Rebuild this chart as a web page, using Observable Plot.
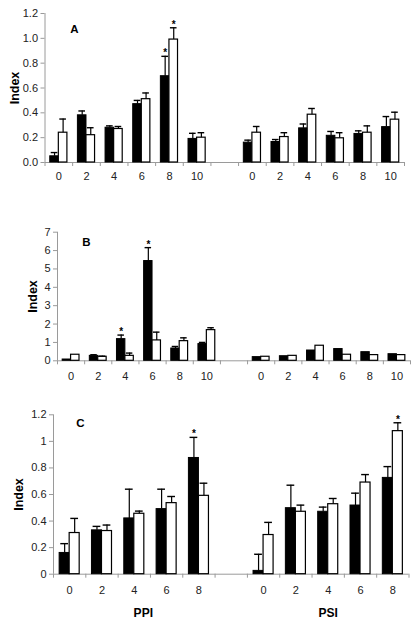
<!DOCTYPE html>
<html><head><meta charset="utf-8">
<script src="https://cdn.jsdelivr.net/npm/d3@7"></script>
<script src="https://cdn.jsdelivr.net/npm/@observablehq/plot@0.6"></script>
<style>
body{margin:0;background:#fff;}
#wrap{position:relative;width:417px;height:625px;background:#fff;}
#wrap svg{position:absolute;left:0;}
</style></head><body><div id="wrap"></div>
<script>
const groups = ["PPI", "PSI"];
const dosesAB = ["0", "2", "4", "6", "8", "10"];
const dosesC = ["0", "2", "4", "6", "8"];

// Panel A
const aBlackPPI = [0.05, 0.38, 0.28, 0.47, 0.695, 0.19];
const aBlackPPIse = [0.03, 0.035, 0.015, 0.03, 0.16, 0.045];
const aWhitePPI = [0.24, 0.22, 0.27, 0.51, 0.99, 0.20];
const aWhitePPIse = [0.11, 0.06, 0.02, 0.05, 0.095, 0.04];
const aBlackPSI = [0.16, 0.165, 0.275, 0.215, 0.23, 0.285];
const aBlackPSIse = [0.02, 0.02, 0.035, 0.035, 0.025, 0.085];
const aWhitePSI = [0.24, 0.205, 0.385, 0.195, 0.24, 0.345];
const aWhitePSIse = [0.05, 0.035, 0.05, 0.045, 0.055, 0.06];
const aStars = [["PPI", "black", "8"], ["PPI", "white", "8"]];

// Panel B
const bBlackPPI = [0.07, 0.27, 1.18, 5.43, 0.67, 0.91];
const bBlackPPIse = [0, 0.06, 0.22, 0.73, 0.11, 0.09];
const bWhitePPI = [0.33, 0.22, 0.27, 1.11, 1.07, 1.67];
const bWhitePPIse = [0, 0.03, 0.15, 0.45, 0.18, 0.13];
const bBlackPSI = [0.2, 0.25, 0.56, 0.64, 0.47, 0.36];
const bBlackPSIse = [0, 0, 0, 0, 0, 0];
const bWhitePSI = [0.22, 0.27, 0.82, 0.33, 0.31, 0.31];
const bWhitePSIse = [0, 0, 0, 0, 0, 0];
const bStars = [["PPI", "black", "4"], ["PPI", "black", "6"]];

// Panel C
const cBlackPPI = [0.16, 0.33, 0.42, 0.49, 0.875];
const cBlackPPIse = [0.07, 0.03, 0.22, 0.15, 0.155];
const cWhitePPI = [0.31, 0.325, 0.455, 0.535, 0.59];
const cWhitePPIse = [0.11, 0.045, 0.02, 0.05, 0.095];
const cBlackPSI = [0.025, 0.497, 0.47, 0.517, 0.725];
const cBlackPSIse = [0.125, 0.173, 0.035, 0.093, 0.085];
const cWhitePSI = [0.295, 0.47, 0.527, 0.69, 1.077];
const cWhitePSIse = [0.095, 0.05, 0.043, 0.06, 0.063];
const cStars = [["PPI", "black", "8"], ["PSI", "white", "8"]];

const yTicksA = [0, 0.2, 0.4, 0.6, 0.8, 1.0, 1.2];
const yTicksB = [0, 1, 2, 3, 4, 5, 6, 7];
const yTicksC = [0, 0.2, 0.4, 0.6, 0.8, 1, 1.2];

const wBar = 0.31, cap = 0.12;
const FONT = "'Liberation Sans', Arial, sans-serif";

function makeRows(doses, sets, stars) {
  const rows = [];
  for (const s of sets) {
    const g = groups.indexOf(s.group);
    s.values.forEach((v, i) => rows.push({
      group: s.group, kind: s.kind, dose: doses[i], value: v, se: s.se[i],
      slot: g * (doses.length + 1) + i,
      star: stars.some(t => t[0] === s.group && t[1] === s.kind && t[2] === doses[i])
    }));
  }
  return rows;
}

const rowsA = makeRows(dosesAB, [
  {group: "PPI", kind: "black", values: aBlackPPI, se: aBlackPPIse},
  {group: "PPI", kind: "white", values: aWhitePPI, se: aWhitePPIse},
  {group: "PSI", kind: "black", values: aBlackPSI, se: aBlackPSIse},
  {group: "PSI", kind: "white", values: aWhitePSI, se: aWhitePSIse}], aStars);
const rowsB = makeRows(dosesAB, [
  {group: "PPI", kind: "black", values: bBlackPPI, se: bBlackPPIse},
  {group: "PPI", kind: "white", values: bWhitePPI, se: bWhitePPIse},
  {group: "PSI", kind: "black", values: bBlackPSI, se: bBlackPSIse},
  {group: "PSI", kind: "white", values: bWhitePSI, se: bWhitePSIse}], bStars);
const rowsC = makeRows(dosesC, [
  {group: "PPI", kind: "black", values: cBlackPPI, se: cBlackPPIse},
  {group: "PPI", kind: "white", values: cWhitePPI, se: cWhitePPIse},
  {group: "PSI", kind: "black", values: cBlackPSI, se: cBlackPSIse},
  {group: "PSI", kind: "white", values: cWhitePSI, se: cWhitePSIse}], cStars);

function panel(o) {
  const n = o.doses.length;
  const nSlots = 2 * n + 1;
  const left = d => d.slot + 0.5 + (d.kind === "black" ? -wBar : 0);
  const mid = d => left(d) + wBar / 2;
  const centers = [], labels = [];
  groups.forEach((g, gi) => o.doses.forEach((d, i) => { centers.push(gi * (n + 1) + i + 0.5); labels.push(d); }));
  const errRows = o.rows.filter(d => d.se > 0);
  const marks = [
    Plot.ruleX([0], {stroke: "#9a9a9a"}),
    Plot.ruleY([0], {stroke: "#9a9a9a"}),
    Plot.axisY({ticks: o.yticks, tickFormat: o.fmt, tickSize: 4, tickPadding: 3, stroke: "#9a9a9a", fill: "#222", fontSize: 11, label: null}),
    Plot.axisX({ticks: d3.range(0, nSlots + 1), tickFormat: () => "", tickSize: 4, stroke: "#9a9a9a", label: null}),
    Plot.axisX({ticks: centers, tickFormat: (d, i) => labels[i], tickSize: 0, tickPadding: o.labelPad, fill: "#222", fontSize: 11, label: null}),
    Plot.rectY(o.rows.filter(d => d.kind === "black"), {x1: left, x2: d => left(d) + wBar, y1: 0, y2: "value", fill: "black", stroke: "black", strokeWidth: 1}),
    Plot.rectY(o.rows.filter(d => d.kind === "white"), {x1: left, x2: d => left(d) + wBar, y1: 0, y2: "value", fill: "white", stroke: "black", strokeWidth: 1.2}),
    Plot.ruleX(errRows, {x: mid, y1: "value", y2: d => d.value + d.se, stroke: "black", strokeWidth: 1.2}),
    Plot.ruleY(errRows, {y: d => d.value + d.se, x1: d => mid(d) - cap, x2: d => mid(d) + cap, stroke: "black", strokeWidth: 1.4}),
    Plot.text(o.rows.filter(d => d.star), {x: mid, y: d => d.value + d.se, text: () => "*", lineAnchor: "bottom", dy: 0, fontSize: 10, fontWeight: "bold", fill: "black"}),
    Plot.text([o.letter], {frameAnchor: "top-left", dx: o.letterDx, dy: o.letterDy, lineAnchor: "middle", textAnchor: "middle", fontSize: 11.5, fontWeight: "bold", fill: "black"}),
    Plot.text(["Index"], {frameAnchor: "left", dx: o.indexDx, rotate: -90, textAnchor: "middle", lineAnchor: "middle", fontSize: 12.5, fontWeight: "bold", fill: "black"})
  ];
  if (o.groupLabels) {
    marks.push(Plot.text([groups[0]], {x: () => n / 2, frameAnchor: "bottom", dy: o.groupDy, dx: 9, lineAnchor: "middle", fontSize: 12, fontWeight: "bold", fill: "black"}));
    marks.push(Plot.text([groups[1]], {x: () => (n + 1) + n / 2, frameAnchor: "bottom", dy: o.groupDy, lineAnchor: "middle", fontSize: 12, fontWeight: "bold", fill: "black"}));
  }
  const svg = Plot.plot({
    width: 417, height: o.height,
    marginTop: o.mt, marginBottom: o.mb, marginLeft: o.ml, marginRight: o.mr,
    x: {type: "linear", domain: [0, nSlots]},
    y: {domain: [0, o.ymax]},
    style: {fontFamily: FONT, fontSize: "11px", background: "white", overflow: "visible"},
    marks
  });
  svg.style.top = o.top + "px";
  return svg;
}

const wrap = document.getElementById("wrap");
wrap.append(panel({rows: rowsA, doses: dosesAB, ymax: 1.2, yticks: yTicksA, fmt: d3.format(".1f"),
  top: 0, height: 195, mt: 13, mb: 33, ml: 44.5, mr: 13, labelPad: 10,
  letter: "A", letterDx: 29.5, letterDy: 16, indexDx: -30}));
wrap.append(panel({rows: rowsB, doses: dosesAB, ymax: 7, yticks: yTicksB, fmt: d3.format("d"),
  top: 200, height: 190, mt: 31.7, mb: 29.7, ml: 57, mr: 7, labelPad: 11,
  letter: "B", letterDx: 29, letterDy: 10, indexDx: -25}));
wrap.append(panel({rows: rowsC, doses: dosesC, ymax: 1.2, yticks: yTicksC, fmt: d => String(d),
  top: 390, height: 235, mt: 24.3, mb: 51.3, ml: 53, mr: 8.5, labelPad: 12,
  letter: "C", letterDx: 27, letterDy: 9, indexDx: -35, groupLabels: true, groupDy: 39}));
</script></body></html>
